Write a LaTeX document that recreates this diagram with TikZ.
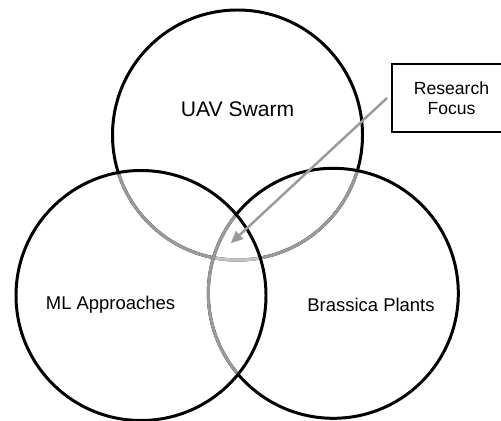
\documentclass[tikz,border=0pt]{standalone}
\usepackage{fontspec}
\setmainfont{Liberation Sans}
\usepackage{tikz}
\usetikzlibrary{positioning,arrows.meta}
\usepackage{xcolor}
\definecolor{ringgray}{HTML}{9A9A9A}
\definecolor{palegray}{HTML}{C4C4C4}

\begin{document}
\begin{tikzpicture}[
        ring/.style={line width=1.7pt, black},
        backring/.style={line width=1.7pt, ringgray},
        label/.style={font=\fontsize{10.5}{12}\selectfont, inner sep=0pt}
    ]
        \coordinate (uav) at (4.75,5.70);
        \coordinate (ml) at (2.82,2.49);
        \coordinate (brassica) at (6.666,2.534);

        % Top circle, parts hidden behind the lower circles in gray
        \draw[ring] (uav) circle (2.5);
        \begin{scope}
            \clip (ml) circle (2.5);
            \draw[backring] (uav) circle (2.5);
        \end{scope}
        \begin{scope}
            \clip (brassica) circle (2.5);
            \draw[backring] (uav) circle (2.5);
        \end{scope}
        \begin{scope}
            \clip (ml) circle (2.5);
            \clip (brassica) circle (2.5);
            \draw[line width=1.7pt, palegray] (uav) circle (2.5);
        \end{scope}

        % Right circle, left arc behind the left circle
        \draw[ring] (brassica) circle (2.5);
        \begin{scope}
            \clip (ml) circle (2.5);
            \draw[backring] (brassica) circle (2.5);
        \end{scope}
        \draw[ring] (ml) circle (2.5);

        \node[label, font=\fontsize{12}{14}\selectfont] (uavtext) at (4.75,6.21) {UAV Swarm};
        \node[label] (mltext) at (2.21,2.31) {ML Approaches};
        \node[label] (brassicatext) at (7.42,2.31) {Brassica Plants};

        \node[draw, line width=1.1pt, minimum width=2.38cm, minimum height=1.36cm,
              align=center, font=\fontsize{10}{11.4}\selectfont] (focus) at (9.03,6.44) {Research\\Focus};
        \coordinate (tip) at (4.614,3.534);
        \draw[ringgray, line width=1.4pt, -{Triangle[length=7pt,width=6pt]}]
            ([xshift=-0.08cm]focus.west) -- (tip);

        \pgfresetboundingbox
        \useasboundingbox (0,0) rectangle (10.02,8.4);
    \end{tikzpicture}
\end{document}
